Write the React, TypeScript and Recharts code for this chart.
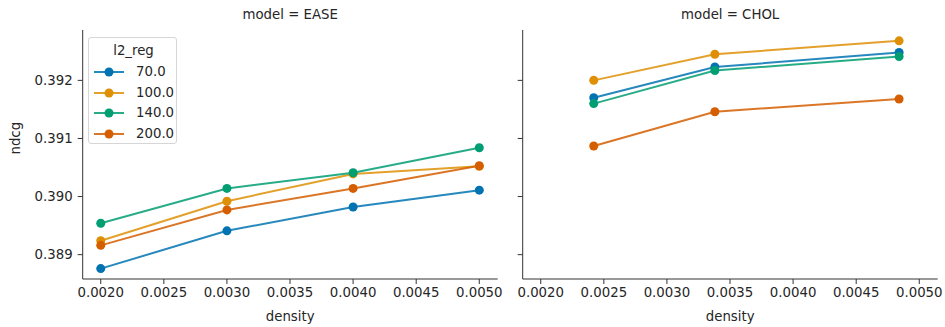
import React from 'react';
import { LineChart, Line, XAxis, YAxis, Legend } from 'recharts';

const l2Regs = ['70.0', '100.0', '140.0', '200.0'];
const colors = ['#0173b2', '#de8f05', '#029e73', '#d55e00'];

const easeDensity = [0.002, 0.003, 0.004, 0.005];
const easeNdcg70 = [0.38876, 0.38941, 0.38982, 0.39011];
const easeNdcg100 = [0.38924, 0.38992, 0.39039, 0.39052];
const easeNdcg140 = [0.38954, 0.39014, 0.39041, 0.39084];
const easeNdcg200 = [0.38916, 0.38977, 0.39014, 0.39053];

const cholDensity = [0.00242, 0.00338, 0.00484];
const cholNdcg70 = [0.39170, 0.39223, 0.39248];
const cholNdcg100 = [0.39200, 0.39245, 0.39268];
const cholNdcg140 = [0.39160, 0.39217, 0.39241];
const cholNdcg200 = [0.39087, 0.39146, 0.39168];

const xTicks = [0.002, 0.0025, 0.003, 0.0035, 0.004, 0.0045, 0.005];
const yTicks = [0.389, 0.39, 0.391, 0.392];
const xDomain = [0.001857, 0.005146];
const yDomain = [0.388581, 0.392867];

const build = (xs: number[], ys: number[]) => xs.map((d, i) => ({ density: d, ndcg: ys[i] }));

const easeSeries = [easeNdcg70, easeNdcg100, easeNdcg140, easeNdcg200].map((ys) => build(easeDensity, ys));
const cholSeries = [cholNdcg70, cholNdcg100, cholNdcg140, cholNdcg200].map((ys) => build(cholDensity, ys));

const FONT = 'DejaVu Sans, sans-serif';
const FS = 13.3;
const AXIS = '#333333';
const TEXT = '#262626';
const PLOT_W = 415;
const Y_W = 82.7;

const LegendBox = () => (
  <div
    style={{
      position: 'absolute',
      left: 88,
      top: 37,
      width: 89,
      height: 107,
      border: '1px solid #d6d6d6',
      borderRadius: 3,
      background: 'rgba(255,255,255,0.8)',
      fontFamily: FONT,
      fontSize: FS,
      color: TEXT,
      boxSizing: 'border-box',
    }}
  >
    <div style={{ position: 'absolute', left: 0, width: 89, top: 5, textAlign: 'center', lineHeight: '16px' }}>l2_reg</div>
    {l2Regs.map((r, i) => (
      <div key={r} style={{ position: 'absolute', left: 0, top: 26 + i * 20.5, height: 16, width: 89 }}>
        <svg width={34} height={16} style={{ position: 'absolute', left: 4, top: 0 }}>
          <line x1={1} y1={8} x2={31} y2={8} stroke={colors[i]} strokeWidth={2} strokeOpacity={0.85} />
          <circle cx={16} cy={8} r={4.5} fill={colors[i]} />
        </svg>
        <span style={{ position: 'absolute', left: 47, top: 0, lineHeight: '16px' }}>{r}</span>
      </div>
    ))}
  </div>
);

const hiddenTick = () => <g />;

const Panel = ({ title, series, showY, left, width, legend }: any) => (
  <div style={{ position: 'absolute', left, top: 0, width, height: 327 }}>
    <LineChart width={width} height={327} margin={{ top: 30, right: width - PLOT_W - Y_W, left: 0, bottom: 0 }}>
      <XAxis
        dataKey="density"
        type="number"
        domain={xDomain}
        ticks={xTicks}
        allowDataOverflow
        tickFormatter={(v: number) => v.toFixed(4)}
        height={48}
        tickSize={5}
        tickMargin={4}
        stroke={AXIS}
        tick={{ fill: TEXT, fontSize: FS, fontFamily: FONT }}
        label={{ value: 'density', position: 'insideBottom', offset: 6, fill: TEXT, fontSize: FS, fontFamily: FONT }}
      />
      <YAxis
        dataKey="ndcg"
        type="number"
        domain={yDomain}
        ticks={yTicks}
        allowDataOverflow
        width={Y_W}
        tickSize={5}
        tickMargin={5}
        stroke={AXIS}
        tickFormatter={(v: number) => v.toFixed(3)}
        tick={showY ? { fill: TEXT, fontSize: FS, fontFamily: FONT } : hiddenTick}
        label={
          showY
            ? { value: 'ndcg', angle: -90, position: 'insideLeft', offset: 15, fill: TEXT, fontSize: FS, fontFamily: FONT }
            : undefined
        }
      />
      {series.map((d: any, i: number) => (
        <Line
          key={l2Regs[i]}
          data={d}
          dataKey="ndcg"
          name={l2Regs[i]}
          stroke={colors[i]}
          strokeOpacity={0.85}
          strokeWidth={2}
          dot={{ r: 4.5, fill: colors[i], stroke: colors[i], strokeWidth: 0, fillOpacity: 1 }}
          isAnimationActive={false}
        />
      ))}
      {legend ? <Legend content={() => <LegendBox />} wrapperStyle={{ position: 'absolute', left: 0, top: 0, width: 0, height: 0 }} /> : null}
    </LineChart>
    <div
      style={{
        position: 'absolute',
        left: Y_W,
        width: PLOT_W,
        top: 7,
        textAlign: 'center',
        fontFamily: FONT,
        fontSize: FS,
        color: TEXT,
        lineHeight: '16px',
      }}
    >
      {title}
    </div>
  </div>
);

export default function App() {
  return (
    <div style={{ position: 'absolute', left: 0, top: 0, width: 945, height: 327, background: '#fff', overflow: 'hidden' }}>
      <Panel title="model = CHOL" series={cholSeries} showY={false} left={440} width={505} legend={false} />
      <Panel title="model = EASE" series={easeSeries} showY left={0} width={520} legend />
    </div>
  );
}
